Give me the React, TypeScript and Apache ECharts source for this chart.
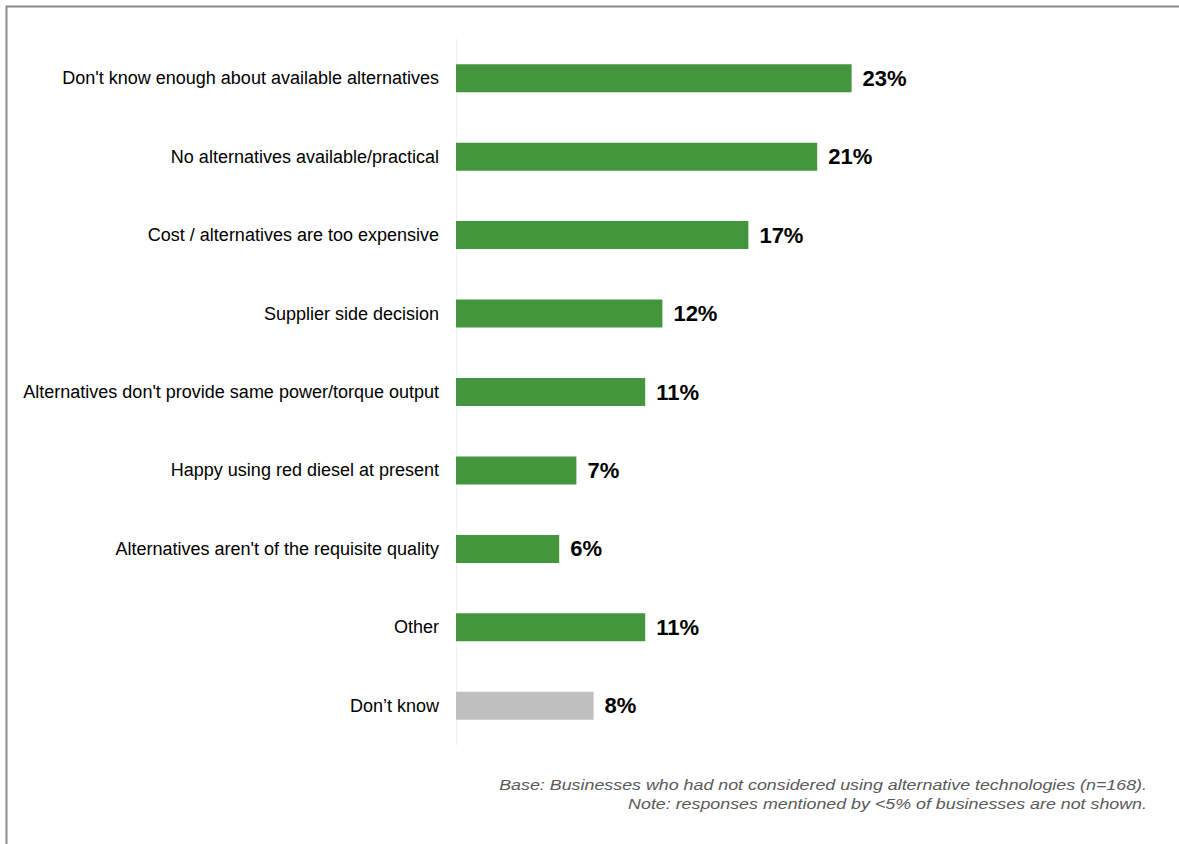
import React, { useEffect, useRef } from "react";
import * as echarts from "echarts";

const categories = [
  "Don't know enough about available alternatives",
  "No alternatives available/practical",
  "Cost / alternatives are too expensive",
  "Supplier side decision",
  "Alternatives don't provide same power/torque output",
  "Happy using red diesel at present",
  "Alternatives aren't of the requisite quality",
  "Other",
  "Don’t know",
];
const values = [23, 21, 17, 12, 11, 7, 6, 11, 8];
const barColors = ["#43963B", "#43963B", "#43963B", "#43963B", "#43963B", "#43963B", "#43963B", "#43963B", "#BFBFBF"];
const footnotes = [
  "Base: Businesses who had not considered using alternative technologies (n=168).",
  "Note: responses mentioned by <5% of businesses are not shown.",
];

export default function App() {
  const ref = useRef<HTMLDivElement>(null);
  useEffect(() => {
    if (!ref.current) return;
    const chart = echarts.init(ref.current, null, { renderer: "svg" });
    chart.setOption({
      animation: false,
      backgroundColor: "#ffffff",
      grid: { left: 456, top: 39, width: 516, height: 706, containLabel: false },
      xAxis: {
        type: "value",
        min: 0,
        max: 30,
        show: false,
      },
      yAxis: {
        type: "category",
        inverse: true,
        data: categories,
        axisLine: { show: true, lineStyle: { color: "#EFEFEF", width: 1 } },
        axisTick: { show: false },
        axisLabel: {
          color: "#000000",
          fontFamily: "Liberation Sans, Arial, sans-serif",
          fontSize: 18,
          margin: 17,
        },
      },
      series: [
        {
          type: "bar",
          barWidth: 28,
          data: values.map((v, i) => ({ value: v, itemStyle: { color: barColors[i] } })),
          label: {
            show: true,
            position: "right",
            distance: 11,
            formatter: "{c}%",
            color: "#000000",
            fontWeight: "bold",
            fontSize: 22,
            fontFamily: "Liberation Sans, Arial, sans-serif",
          },
        },
      ],
      graphic: [
        {
          type: "rect",
          shape: { x: 6.5, y: 6.5, width: 1300, height: 1000 },
          style: { fill: "none", stroke: "#8C8C8C", lineWidth: 2 },
          silent: true,
        },
        ...footnotes.map((t, i) => ({
          type: "text",
          x: 1147,
          y: 785 + i * 19,
          scaleX: 1.19,
          style: {
            text: t,
            align: "right",
            verticalAlign: "middle",
            fill: "#595959",
            fontStyle: "italic",
            fontSize: 15,
            fontFamily: "Liberation Sans, Arial, sans-serif",
          },
        })),
      ],
    });
    return () => chart.dispose();
  }, []);
  return (
    <div
      ref={ref}
      style={{ position: "fixed", left: 0, top: 0, width: 1179, height: 844, background: "#fff" }}
    />
  );
}
